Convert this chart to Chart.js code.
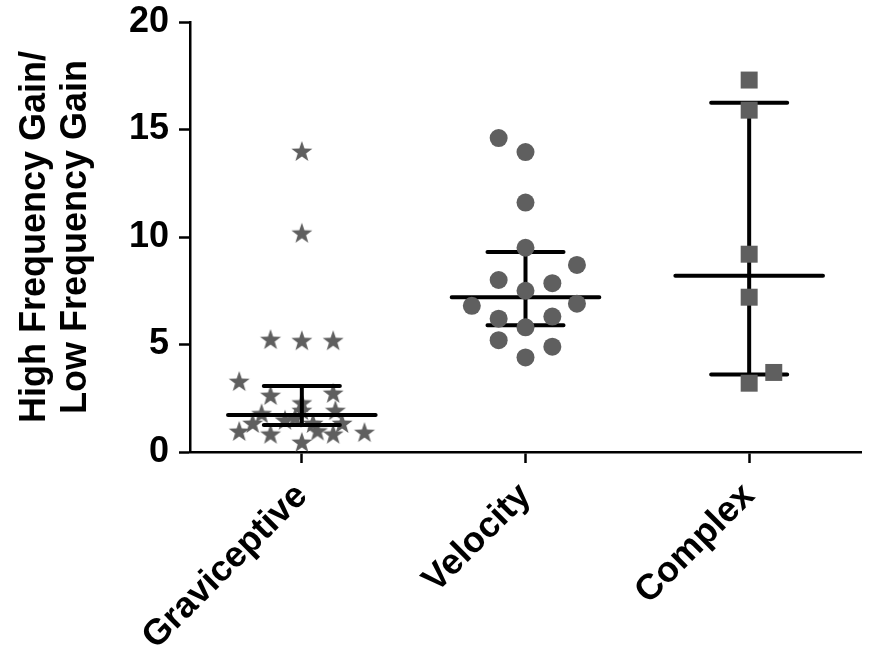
<!DOCTYPE html>
<html>
<head>
<meta charset="utf-8">
<script src="https://cdn.jsdelivr.net/npm/chart.js@4.4.0/dist/chart.umd.min.js"></script>
<style>
html,body{margin:0;padding:0;background:#fff;}
#wrap{width:873px;height:657px;}
</style>
</head>
<body>
<div id="wrap"><canvas id="c" width="873" height="657"></canvas></div>
<script>
// ---- data ----
const categories = ['Graviceptive', 'Velocity', 'Complex'];
const yTicks = [0, 5, 10, 15, 20];

// jitter offsets (relative to category position) and values
const gravOffset = [0, 0, -0.14, 0, 0.14, -0.28, -0.14, 0.14, 0, -0.18, 0, 0.15, -0.22, -0.075, 0.05, 0.18, -0.28, -0.14, 0, 0.07, 0.14, 0.28, -0.03];
const gravValues = [14.0, 10.2, 5.25, 5.2, 5.2, 3.3, 2.65, 2.75, 2.3, 1.8, 1.95, 1.95, 1.35, 1.5, 1.35, 1.35, 0.98, 0.85, 0.47, 1.0, 0.85, 0.93, 1.6];

const velOffset = [-0.12, 0, 0, 0, 0.23, -0.12, 0.12, 0, -0.24, 0.23, -0.12, 0.12, 0, -0.12, 0.12, 0];
const velValues = [14.6, 13.95, 11.6, 9.5, 8.7, 8.0, 7.85, 7.5, 6.8, 6.9, 6.2, 6.3, 5.8, 5.2, 4.9, 4.4];

const cpxOffset = [0, 0, 0, 0, 0.11, 0];
const cpxValues = [17.3, 15.9, 9.2, 7.2, 3.7, 3.2];

// summary: median and interquartile range
const medians = [1.72, 7.2, 8.2];
const lowers = [1.26, 5.9, 3.6];
const uppers = [3.07, 9.3, 16.25];

// ---- styling ----
const markColor = '#5f5f5f';
const FONT = 'Liberation Sans, Arial, Helvetica, sans-serif';

function starCanvas(R, color) {
  const s = Math.ceil(R * 2 + 2);
  const cv = document.createElement('canvas');
  cv.width = s; cv.height = s;
  const g = cv.getContext('2d');
  const cx = s / 2, cy = s / 2 + R * 0.1;
  const r = R * 0.4;
  g.beginPath();
  for (let k = 0; k < 10; k++) {
    const rad = (k % 2 === 0) ? R : r;
    const a = -Math.PI / 2 + k * Math.PI / 5;
    const px = cx + rad * Math.cos(a), py = cy + rad * Math.sin(a);
    if (k === 0) g.moveTo(px, py); else g.lineTo(px, py);
  }
  g.closePath();
  g.fillStyle = color;
  g.fill();
  return cv;
}
const star = starCanvas(11, markColor);

function pts(cat, offs, vals) {
  return vals.map((v, i) => ({ x: cat + offs[i], y: v }));
}

function summaryData(i) {
  const d = [];
  const gap = { x: i, y: null };
  d.push({ x: i - 0.33, y: medians[i] }, { x: i + 0.33, y: medians[i] }, gap);
  d.push({ x: i - 0.17, y: uppers[i] }, { x: i + 0.17, y: uppers[i] }, gap);
  d.push({ x: i - 0.17, y: lowers[i] }, { x: i + 0.17, y: lowers[i] }, gap);
  d.push({ x: i, y: lowers[i] }, { x: i, y: uppers[i] });
  return d;
}

const lineDs = categories.map((c, i) => ({
  type: 'line',
  data: summaryData(i),
  borderColor: '#000',
  borderWidth: 4,
  borderCapStyle: 'round',
  pointRadius: 0,
  spanGaps: false,
  fill: false,
  order: 2,
  clip: false
}));

const datasets = [
  { data: pts(0, gravOffset, gravValues), pointStyle: star, pointRadius: 11, order: 3, clip: false,
    backgroundColor: markColor, borderColor: markColor },
  ...lineDs,
  { data: pts(1, velOffset, velValues), pointStyle: 'circle', pointRadius: 9, borderWidth: 0, order: 1, clip: false,
    backgroundColor: markColor, borderColor: markColor },
  { data: pts(2, cpxOffset, cpxValues), pointStyle: 'rect', pointRadius: 12, borderWidth: 0, order: 1, clip: false,
    backgroundColor: markColor, borderColor: markColor }
];

new Chart(document.getElementById('c'), {
  type: 'scatter',
  data: { datasets },
  options: {
    responsive: false,
    animation: false,
    devicePixelRatio: 1,
    layout: { padding: { top: 22, right: 2, left: 0, bottom: 0 } },
    plugins: { legend: { display: false }, tooltip: { enabled: false } },
    scales: {
      x: {
        type: 'linear',
        min: -0.5, max: 2.5,
        afterBuildTicks: s => { s.ticks = categories.map((c, i) => ({ value: i })); },
        afterFit: s => { s.height = 205; },
        ticks: {
          callback: v => categories[v] ?? '',
          color: '#000',
          font: { family: FONT, size: 36, weight: 'bold' },
          minRotation: 45, maxRotation: 45,
          padding: 12
        },
        grid: { drawOnChartArea: false, drawTicks: true, tickLength: 11, tickWidth: 2.5, color: '#000' },
        border: { display: true, width: 2.5, color: '#000' }
      },
      y: {
        type: 'linear',
        min: 0, max: 20,
        afterBuildTicks: s => { s.ticks = yTicks.map(v => ({ value: v })); },
        afterFit: s => { s.width = 190; s.paddingTop = 0; s.paddingBottom = 0; },
        ticks: {
          color: '#000',
          font: { family: FONT, size: 36, weight: 'bold' },
          padding: 10
        },
        grid: { drawOnChartArea: false, drawTicks: true, tickLength: 11, tickWidth: 2.5, color: '#000' },
        border: { display: true, width: 2.5, color: '#000' },
        title: {
          display: true,
          text: ['High Frequency Gain/', 'Low Frequency Gain'],
          color: '#000',
          font: { family: FONT, size: 36, weight: 'bold', lineHeight: 1.14 },
          padding: { top: 15, bottom: 0 }
        }
      }
    }
  }
});
</script>
</body>
</html>
